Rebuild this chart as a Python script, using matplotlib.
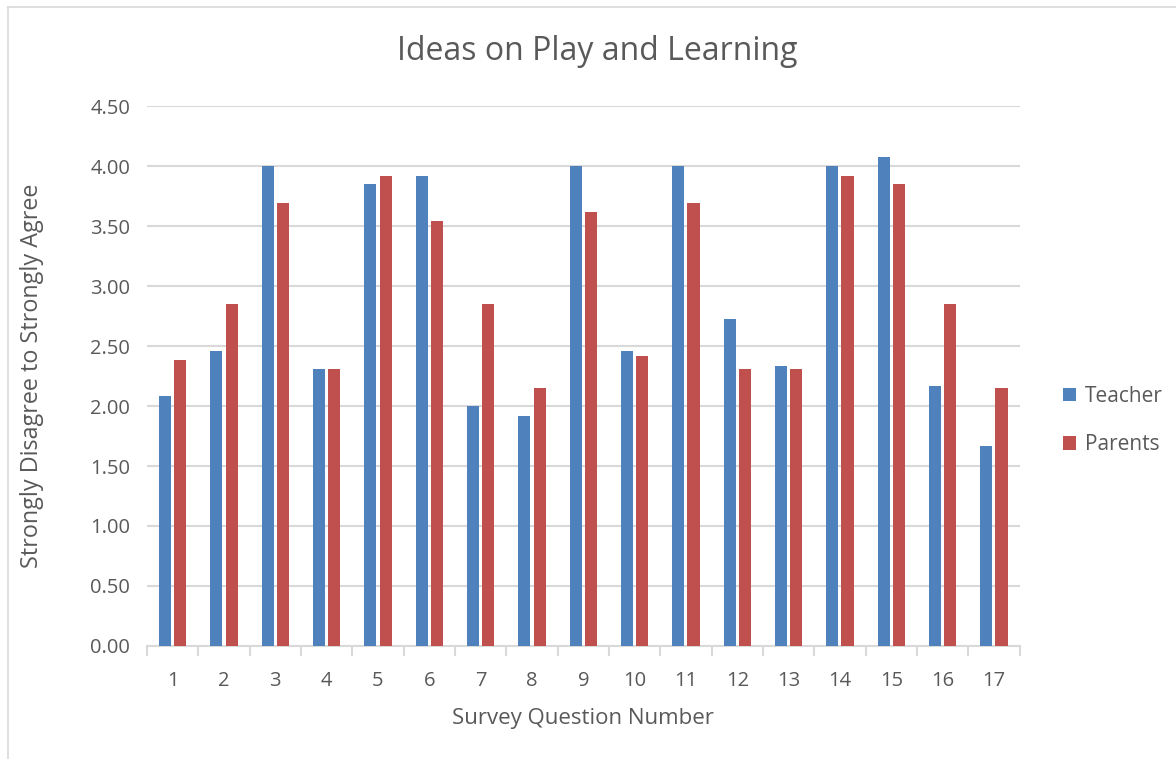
import matplotlib.pyplot as plt
import numpy as np
from matplotlib.lines import Line2D

questions = [str(i) for i in range(1, 18)]
teacher = [2.08, 2.46, 4.00, 2.31, 3.85, 3.92, 2.00, 1.92, 4.00, 2.46,
           4.00, 2.73, 2.33, 4.00, 4.08, 2.17, 1.67]
parents = [2.38, 2.85, 3.69, 2.31, 3.92, 3.54, 2.85, 2.15, 3.62, 2.42,
           3.69, 2.31, 2.31, 3.92, 3.85, 2.85, 2.15]

blue = '#4F81BD'
red = '#C0504D'
txt = '#595959'
grid = '#D9D9D9'

plt.rcParams['font.family'] = ['Open Sans', 'DejaVu Sans']

fig = plt.figure(figsize=(11.76, 7.59), dpi=100)
ax = fig.add_axes([0.125, 0.149, 0.742, 0.711])

x = np.arange(len(questions))
w = 0.235
gap = 0.06
ax.bar(x - (w + gap) / 2, teacher, w, color=blue, label='Teacher', zorder=3)
ax.bar(x + (w + gap) / 2, parents, w, color=red, label='Parents', zorder=3)

ax.set_xlim(-0.5, len(questions) - 0.5)
ax.set_ylim(0, 4.5)
ax.set_yticks(np.arange(0, 4.51, 0.5))
ax.set_yticklabels([f'{v:.2f}' for v in np.arange(0, 4.51, 0.5)])
ax.yaxis.grid(True, color=grid, linewidth=1.5, zorder=0)
ax.set_axisbelow(True)

ax.set_xticks(x)
ax.set_xticklabels(questions)
ax.set_xticks(np.arange(-0.5, len(questions), 1), minor=True)
ax.tick_params(axis='x', which='major', length=0, pad=18, labelsize=14.5, labelcolor=txt)
ax.tick_params(axis='x', which='minor', length=7, width=1.5, color=grid)
ax.tick_params(axis='y', length=0, pad=12, labelsize=14.5, labelcolor=txt)

for s in ['top', 'right', 'left']:
    ax.spines[s].set_visible(False)
ax.spines['bottom'].set_color(grid)
ax.spines['bottom'].set_linewidth(1.5)

fig.text(597 / 1176, 1 - 52 / 759, 'Ideas on Play and Learning', fontsize=23,
         color=txt, ha='center', va='center')
ax.set_xlabel('Survey Question Number', fontsize=16, color=txt, labelpad=12)
ax.set_ylabel('Strongly Disagree to Strongly Agree', fontsize=16.8, color=txt)
ax.yaxis.set_label_coords(-0.118, 0.5)

leg = ax.legend(loc='center left', bbox_to_anchor=(1.028, 0.418), frameon=False,
                fontsize=15, handlelength=0.65, handleheight=0.65,
                handletextpad=0.4, labelspacing=1.3)
for t in leg.get_texts():
    t.set_color(txt)

# chart area border
fig.add_artist(Line2D([8 / 1176, 8 / 1176], [0, 1 - 7 / 759], color=grid, lw=1.2,
                      transform=fig.transFigure))
fig.add_artist(Line2D([8 / 1176, 1], [1 - 7 / 759, 1 - 7 / 759], color=grid, lw=1.2,
                      transform=fig.transFigure))

fig.savefig('out.png', dpi=100, facecolor='white')
